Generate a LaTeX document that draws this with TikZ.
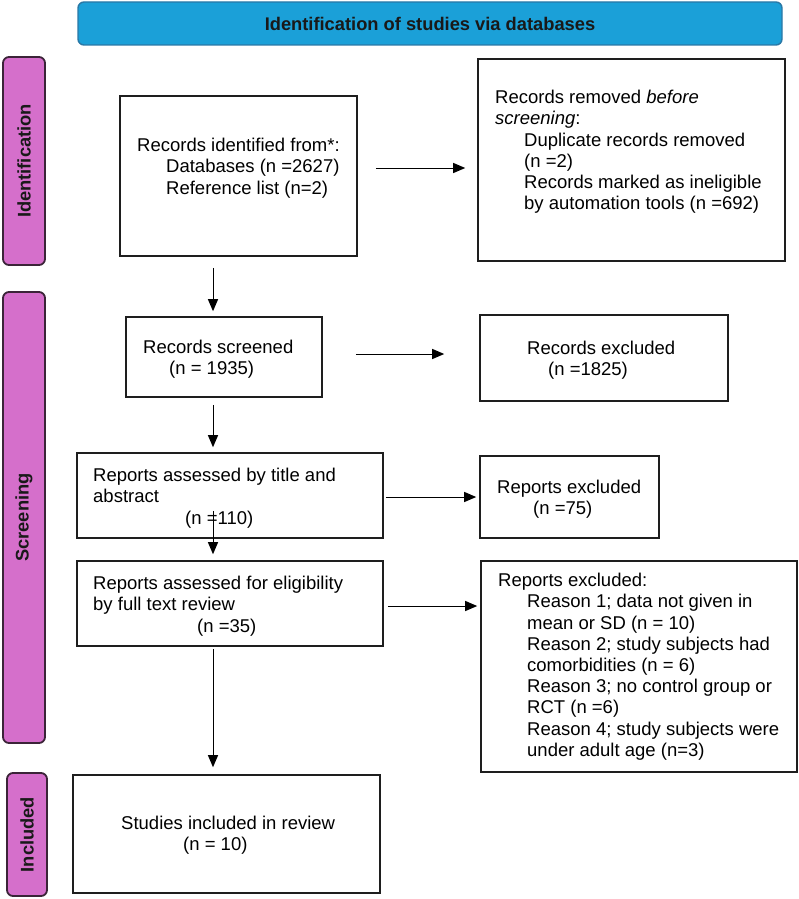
\documentclass[tikz,border=0pt]{standalone}
\usepackage{fontspec}
\setmainfont{Liberation Sans}
\usetikzlibrary{arrows.meta,calc}
\definecolor{bannerfill}{HTML}{1BA0D8}
\definecolor{bannerline}{HTML}{2A78A6}
\definecolor{barfill}{HTML}{D56FCB}
\definecolor{barline}{HTML}{3B2438}
\definecolor{boxline}{HTML}{1E1E1E}
\begin{document}
\begin{tikzpicture}[x=1pt,y=-1pt,
  box/.style={draw=boxline, line width=1.6pt, inner sep=0pt},
  bar/.style={draw=barline, fill=barfill, line width=1.8pt, rounded corners=6pt, inner sep=0pt},
  banner/.style={draw=bannerline, fill=bannerfill, line width=1.4pt, rounded corners=6pt, inner sep=0pt,
    font=\bfseries\fontsize{18.3}{21}\selectfont, text=black!90},
  txt/.style={anchor=north west, inner sep=0pt, align=left, font=\fontsize{18.5}{21.2}\selectfont},
  lab/.style={font=\bfseries\fontsize{18.3}{21}\selectfont, rotate=90, inner sep=0pt, text=black!90},
  arr/.style={-{Triangle[width=10pt,length=12pt]}, line width=1pt, draw=black}]
\useasboundingbox (0,0) rectangle (799,899);

% banner
\node[banner, minimum width=704pt, minimum height=43pt] (ban) at (430,23.5) {Identification of studies via databases};

% phase bars
\node[bar, minimum width=42pt, minimum height=208pt] (idb) at (24,161) {};
\node[lab] (idl) at (idb) {Identification};
\node[bar, minimum width=42pt, minimum height=451pt] (scb) at (24,517.5) {};
\node[lab] (scl) at (scb) {Screening};
\node[bar, minimum width=40pt, minimum height=123pt] (inb) at (27,834.5) {};
\node[lab] (inl) at (inb) {Included};

% boxes
\node[box, minimum width=237pt, minimum height=160pt] (b1) at (238.5,176) {};
\node[box, minimum width=307pt, minimum height=202pt] (rem) at (631.5,160) {};
\node[box, minimum width=196pt, minimum height=80pt] (scr) at (224,357) {};
\node[box, minimum width=248pt, minimum height=86pt] (exc) at (604,358) {};
\node[box, minimum width=306pt, minimum height=85pt] (ta) at (230,495.5) {};
\node[box, minimum width=179pt, minimum height=82pt] (r75) at (569.5,497) {};
\node[box, minimum width=306pt, minimum height=85pt] (el) at (230,603.5) {};
\node[box, minimum width=316pt, minimum height=211pt] (ex2) at (639,666.5) {};
\node[box, minimum width=307pt, minimum height=118pt] (inc) at (226.5,834) {};

% texts
\node[txt] (b1t) at (137,138) {Records identified from*:\\\hspace*{29pt}Databases (n =2627)\\\hspace*{29pt}Reference list (n=2)};
\node[txt] (remt) at (495,90) {Records removed \textit{before}\\\textit{screening}:\\\hspace*{29pt}Duplicate records removed\\\hspace*{29pt}(n =2)\\\hspace*{29pt}Records marked as ineligible\\\hspace*{29pt}by automation tools (n =692)};
\node[txt] (scrt) at (143,340) {Records screened\\\hspace*{26pt}(n = 1935)};
\node[txt] (exct) at (527,341) {Records excluded\\\hspace*{21pt}(n =1825)};
\node[txt] (tat) at (93,468) {Reports assessed by title and\\abstract\\\hspace*{92pt}(n =110)};
\node[txt] (r75t) at (497,480) {Reports excluded\\\hspace*{36pt}(n =75)};
\node[txt] (elt) at (93,576) {Reports assessed for eligibility\\by full text review\\\hspace*{104pt}(n =35)};
\node[txt] (ex2t) at (498,573) {Reports excluded:\\\hspace*{29pt}Reason 1; data not given in\\\hspace*{29pt}mean or SD (n = 10)\\\hspace*{29pt}Reason 2; study subjects had\\\hspace*{29pt}comorbidities (n = 6)\\\hspace*{29pt}Reason 3; no control group or\\\hspace*{29pt}RCT (n =6)\\\hspace*{29pt}Reason 4; study subjects were\\\hspace*{29pt}under adult age (n=3)};
\node[txt] (inct) at (121,816) {Studies included in review\\\hspace*{62pt}(n = 10)};

% guide coordinates
\coordinate (cx) at (213,0);
\coordinate (ya) at (0,168);
\coordinate (yb) at (0,354);
\coordinate (yc) at (0,497);
\coordinate (yd) at (0,606);

% vertical arrows
\draw[arr, shorten <=11pt, shorten >=5pt] (b1.south -| cx) -- (scr.north -| cx);
\draw[arr, shorten <=7pt, shorten >=5pt] (scr.south -| cx) -- (ta.north -| cx);
\draw[arr, shorten <=-28pt, shorten >=6pt] (ta.south -| cx) -- (el.north -| cx);
\draw[arr, shorten <=2pt, shorten >=7pt] (el.south -| cx) -- (inc.north -| cx);

% horizontal arrows
\draw[arr, shorten <=18pt, shorten >=12pt] (b1.east |- ya) -- (rem.west |- ya);
\draw[arr, shorten <=33pt, shorten >=35pt] (scr.east |- yb) -- (exc.west |- yb);
\draw[arr, shorten <=2pt, shorten >=3pt] (ta.east |- yc) -- (r75.west |- yc);
\draw[arr, shorten <=4pt, shorten >=3pt] (el.east |- yd) -- (ex2.west |- yd);
\end{tikzpicture}
\end{document}
